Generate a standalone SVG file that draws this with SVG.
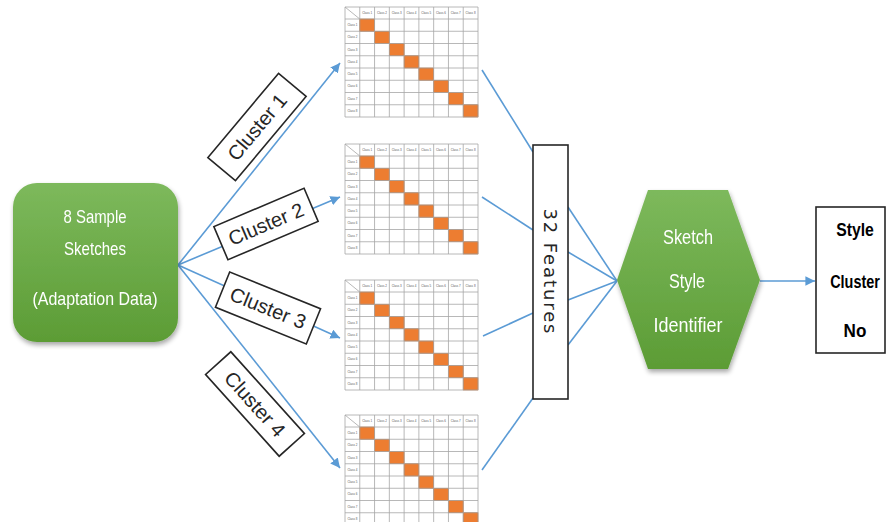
<svg xmlns="http://www.w3.org/2000/svg" xmlns:xlink="http://www.w3.org/1999/xlink" width="887" height="522" viewBox="0 0 887 522">
  <style>
    .conn { stroke: #5b9bd5; stroke-width: 1.6; fill: none; }
    .lbl-box { fill: #ffffff; stroke: #262626; stroke-width: 1.6; }
    .lbl-text { font-family: "Liberation Sans", Arial, sans-serif; font-size: 20px; fill: #262626; text-anchor: middle; }
    .white-text { font-family: "Liberation Sans", Arial, sans-serif; fill: #ffffff; text-anchor: middle; }
    .grid { stroke: #a6a6a6; stroke-width: 0.8; fill: none; }
    .hdr { font-family: "Liberation Sans", Arial, sans-serif; font-size: 3px; fill: #595959; text-anchor: middle; }
    .diag { fill: #ed7d31; stroke: #c55a11; stroke-width: 0.6; }
    .out-text { font-family: "Liberation Sans", Arial, sans-serif; font-weight: bold; font-size: 19px; fill: #000000; text-anchor: middle; }
  </style>
  <defs>
    <linearGradient id="greenFill" x1="0" y1="0" x2="0" y2="1">
      <stop offset="0" stop-color="#7db95c"/>
      <stop offset="1" stop-color="#5c9c35"/>
    </linearGradient>
    <filter id="softShadow" x="-10%" y="-10%" width="125%" height="125%">
      <feGaussianBlur in="SourceAlpha" stdDeviation="2.5"/>
      <feOffset dx="1" dy="3" result="b"/>
      <feComponentTransfer><feFuncA type="linear" slope="0.35"/></feComponentTransfer>
      <feMerge><feMergeNode/><feMergeNode in="SourceGraphic"/></feMerge>
    </filter>
    <marker id="arrow" viewBox="0 0 10 10" refX="10" refY="5" markerWidth="6" markerHeight="6" markerUnits="strokeWidth" orient="auto">
      <path d="M0,0 L10,5 L0,10 z" fill="#5b9bd5"/>
    </marker>
    <!-- 9x9 confusion-matrix table, 133 x 110 -->
    <g id="matrix">
      <rect x="0" y="0" width="133" height="110" fill="#ffffff"/>
      <rect x="14.78" y="12" width="14.78" height="12.25" class="diag"/>
      <rect x="29.56" y="24.25" width="14.78" height="12.25" class="diag"/>
      <rect x="44.33" y="36.5" width="14.78" height="12.25" class="diag"/>
      <rect x="59.11" y="48.75" width="14.78" height="12.25" class="diag"/>
      <rect x="73.89" y="61" width="14.78" height="12.25" class="diag"/>
      <rect x="88.67" y="73.25" width="14.78" height="12.25" class="diag"/>
      <rect x="103.44" y="85.5" width="14.78" height="12.25" class="diag"/>
      <rect x="118.22" y="97.75" width="14.78" height="12.25" class="diag"/>
      <path class="grid" d="M0,0 H133 V110 H0 Z
        M14.78,0 V110 M29.56,0 V110 M44.33,0 V110 M59.11,0 V110 M73.89,0 V110 M88.67,0 V110 M103.44,0 V110 M118.22,0 V110
        M0,12 H133 M0,24.25 H133 M0,36.5 H133 M0,48.75 H133 M0,61 H133 M0,73.25 H133 M0,85.5 H133 M0,97.75 H133
        M0,0 L14.78,12"/>
      <text class="hdr" x="22.2" y="7">Class 1</text>
      <text class="hdr" x="37" y="7">Class 2</text>
      <text class="hdr" x="51.7" y="7">Class 3</text>
      <text class="hdr" x="66.5" y="7">Class 4</text>
      <text class="hdr" x="81.3" y="7">Class 5</text>
      <text class="hdr" x="96" y="7">Class 6</text>
      <text class="hdr" x="110.8" y="7">Class 7</text>
      <text class="hdr" x="125.6" y="7">Class 8</text>
      <text class="hdr" x="7.4" y="19">Class 1</text>
      <text class="hdr" x="7.4" y="31.3">Class 2</text>
      <text class="hdr" x="7.4" y="43.5">Class 3</text>
      <text class="hdr" x="7.4" y="55.8">Class 4</text>
      <text class="hdr" x="7.4" y="68">Class 5</text>
      <text class="hdr" x="7.4" y="80.3">Class 6</text>
      <text class="hdr" x="7.4" y="92.5">Class 7</text>
      <text class="hdr" x="7.4" y="104.8">Class 8</text>
    </g>
  </defs>

  <rect width="887" height="522" fill="#ffffff"/>

  <!-- connectors -->
  <g id="connectors">
    <line class="conn" x1="178" y1="265" x2="340" y2="63" marker-end="url(#arrow)"/>
    <line class="conn" x1="178" y1="265" x2="340" y2="197" marker-end="url(#arrow)"/>
    <line class="conn" x1="178" y1="265" x2="340" y2="338" marker-end="url(#arrow)"/>
    <line class="conn" x1="178" y1="265" x2="340" y2="468" marker-end="url(#arrow)"/>
    <line class="conn" x1="482" y1="70" x2="533" y2="152"/>
    <line class="conn" x1="482" y1="197" x2="533" y2="230"/>
    <line class="conn" x1="483" y1="336" x2="533" y2="313"/>
    <line class="conn" x1="482" y1="470" x2="533" y2="398"/>
    <line class="conn" x1="568" y1="207" x2="617" y2="281"/>
    <line class="conn" x1="568" y1="252" x2="617" y2="281"/>
    <line class="conn" x1="568" y1="300" x2="617" y2="281"/>
    <line class="conn" x1="568" y1="345" x2="617" y2="281"/>
    <line class="conn" x1="760" y1="281" x2="815" y2="281" marker-end="url(#arrow)"/>
  </g>

  <!-- input node -->
  <g id="sample-sketches" filter="url(#softShadow)">
    <rect x="13" y="183" width="165" height="159" rx="24" ry="24" fill="url(#greenFill)"/>
    <text class="white-text" x="95" y="223" font-size="19" textLength="63" lengthAdjust="spacingAndGlyphs">8 Sample</text>
    <text class="white-text" x="95" y="255" font-size="19" textLength="62" lengthAdjust="spacingAndGlyphs">Sketches</text>
    <text class="white-text" x="95" y="305" font-size="19" textLength="125" lengthAdjust="spacingAndGlyphs">(Adaptation Data)</text>
  </g>

  <!-- cluster labels -->
  <g id="cluster-1" transform="translate(257,127) rotate(-50)">
    <rect class="lbl-box" x="-55" y="-18" width="110" height="36"/>
    <text class="lbl-text" x="0" y="7" textLength="80" lengthAdjust="spacingAndGlyphs">Cluster 1</text>
  </g>
  <g id="cluster-2" transform="translate(266,224) rotate(-23)">
    <rect class="lbl-box" x="-49" y="-18" width="98" height="36"/>
    <text class="lbl-text" x="0" y="7" textLength="80" lengthAdjust="spacingAndGlyphs">Cluster 2</text>
  </g>
  <g id="cluster-3" transform="translate(268,308) rotate(22)">
    <rect class="lbl-box" x="-49" y="-19" width="98" height="38"/>
    <text class="lbl-text" x="0" y="7" textLength="80" lengthAdjust="spacingAndGlyphs">Cluster 3</text>
  </g>
  <g id="cluster-4" transform="translate(255,404) rotate(48)">
    <rect class="lbl-box" x="-55" y="-17" width="110" height="34"/>
    <text class="lbl-text" x="0" y="7" textLength="80" lengthAdjust="spacingAndGlyphs">Cluster 4</text>
  </g>

  <!-- confusion matrices -->
  <g id="matrix-1"><use xlink:href="#matrix" x="345" y="7"/></g>
  <g id="matrix-2"><use xlink:href="#matrix" x="345" y="144"/></g>
  <g id="matrix-3"><use xlink:href="#matrix" x="345" y="280"/></g>
  <g id="matrix-4"><use xlink:href="#matrix" x="345" y="415"/></g>

  <!-- feature vector -->
  <g id="features">
    <rect x="533" y="145" width="35" height="254" fill="#ffffff" stroke="#262626" stroke-width="1.6"/>
    <text transform="translate(544,271) rotate(90)" font-family="DejaVu Sans, sans-serif" font-size="18" fill="#262626" text-anchor="middle" textLength="125" lengthAdjust="spacing">32 Features</text>
  </g>

  <!-- classifier -->
  <g id="style-identifier" filter="url(#softShadow)">
    <polygon points="617,280 648,190 728,190 760,280 728,369 648,369" fill="url(#greenFill)"/>
    <text class="white-text" x="688" y="244" font-size="21" textLength="50" lengthAdjust="spacingAndGlyphs">Sketch</text>
    <text class="white-text" x="687" y="288" font-size="21" textLength="36" lengthAdjust="spacingAndGlyphs">Style</text>
    <text class="white-text" x="688" y="332" font-size="21" textLength="69" lengthAdjust="spacingAndGlyphs">Identifier</text>
  </g>

  <!-- output: bold lines, narrowed horizontally -->
  <g id="style-cluster-no">
    <rect x="816" y="207" width="69" height="146" fill="#ffffff" stroke="#262626" stroke-width="1.6"/>
    <text class="out-text" transform="translate(855,236) scale(0.83,1)">Style</text>
    <text class="out-text" transform="translate(855,288) scale(0.76,1)">Cluster</text>
    <text class="out-text" transform="translate(855,337) scale(0.9,1)">No</text>
  </g>
</svg>
